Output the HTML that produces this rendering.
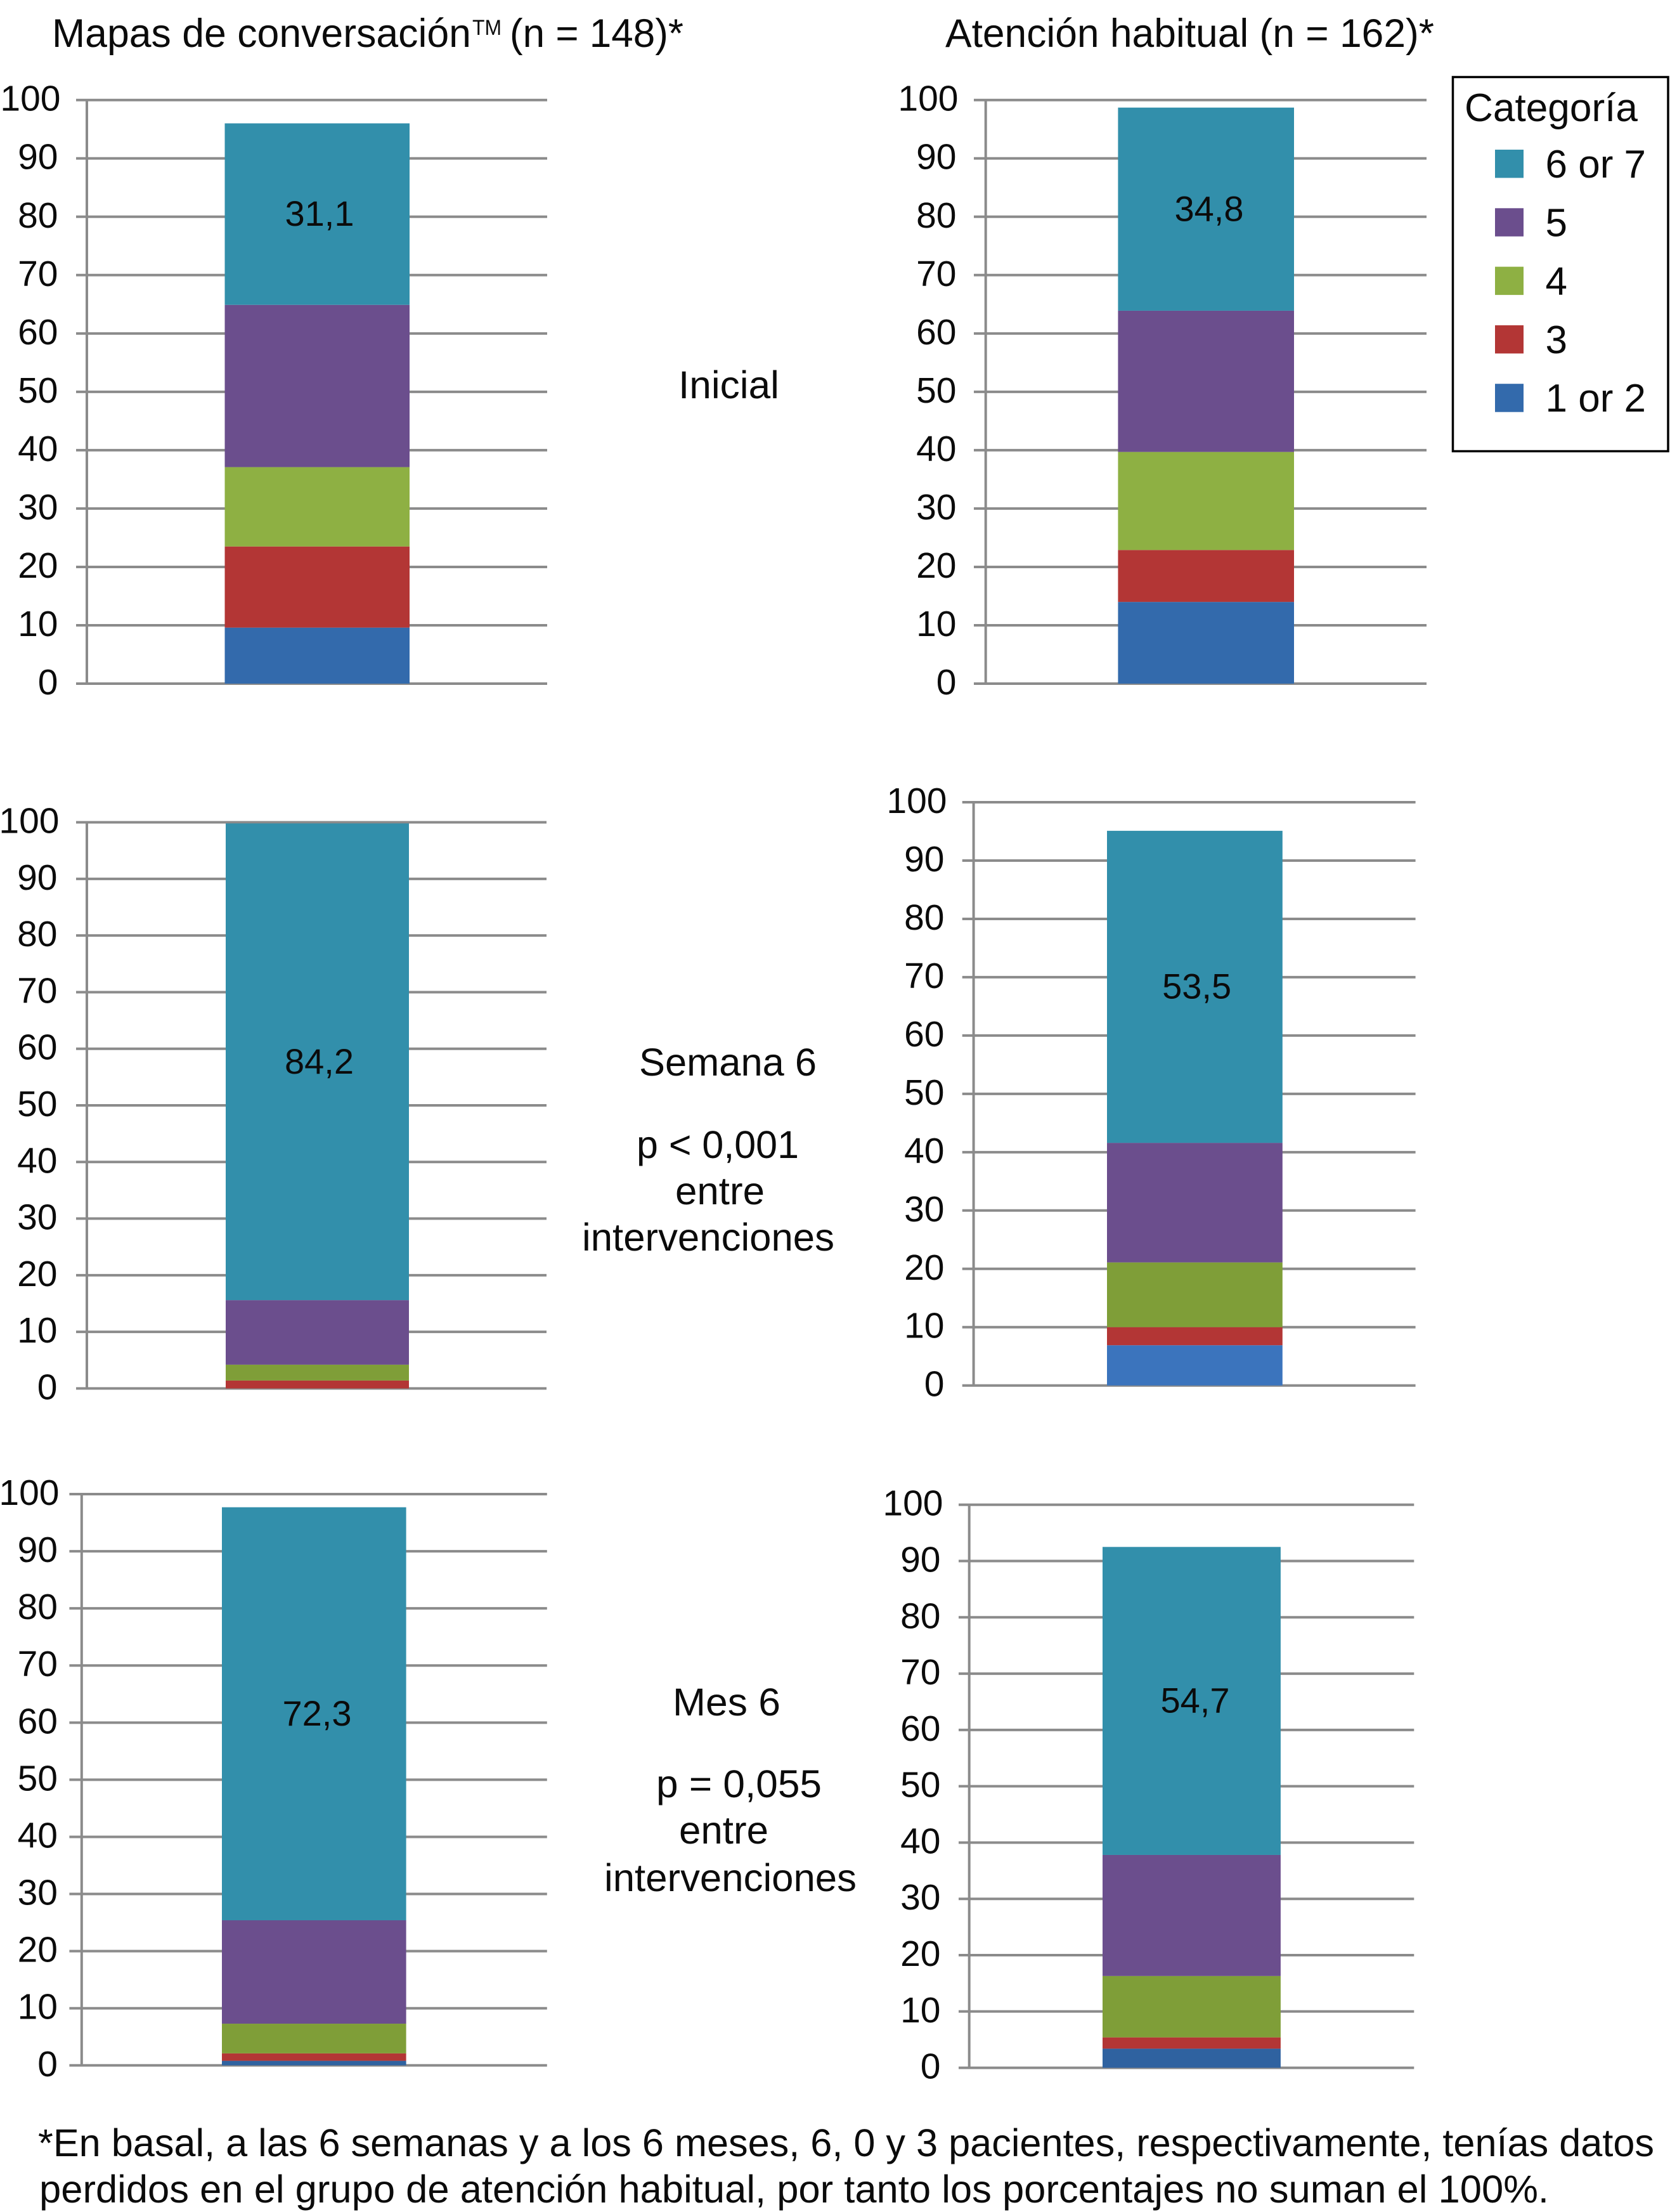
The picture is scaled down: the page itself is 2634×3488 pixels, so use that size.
<!DOCTYPE html>
<html lang="es">
<head>
<meta charset="utf-8">
<title>Mapas de conversación frente a atención habitual</title>
<style>
  html, body { margin: 0; padding: 0; background: #fff; }
  svg { display: block; }
  text { font-family: "Liberation Sans", Arial, sans-serif; fill: #0b0b0b; }
</style>
</head>
<body>
<svg id="chart" xmlns="http://www.w3.org/2000/svg" width="2634" height="3488" viewBox="0 0 2634 3488">
  <rect x="0" y="0" width="2634" height="3488" fill="#ffffff"/>

  <text x="82" y="74" font-size="63" textLength="661" lengthAdjust="spacingAndGlyphs">Mapas de conversación</text>
  <text x="745" y="55" font-size="34" textLength="46" lengthAdjust="spacingAndGlyphs">TM</text>
  <text x="804" y="74" font-size="63" textLength="274" lengthAdjust="spacingAndGlyphs">(n = 148)*</text>
  <text x="1491" y="74" font-size="63" textLength="771" lengthAdjust="spacingAndGlyphs">Atención habitual (n = 162)*</text>

  <text x="1070" y="628" font-size="61" textLength="159" lengthAdjust="spacingAndGlyphs">Inicial</text>

  <text x="1008" y="1696" font-size="61" textLength="280" lengthAdjust="spacingAndGlyphs">Semana 6</text>
  <text x="1004" y="1826" font-size="61" textLength="256" lengthAdjust="spacingAndGlyphs">p &lt; 0,001</text>
  <text x="1065" y="1899" font-size="61" textLength="141" lengthAdjust="spacingAndGlyphs">entre</text>
  <text x="918" y="1972" font-size="61" textLength="398" lengthAdjust="spacingAndGlyphs">intervenciones</text>

  <text x="1061" y="2705" font-size="61" textLength="170" lengthAdjust="spacingAndGlyphs">Mes 6</text>
  <text x="1035" y="2834" font-size="61" textLength="261" lengthAdjust="spacingAndGlyphs">p = 0,055</text>
  <text x="1071" y="2907" font-size="61" textLength="141" lengthAdjust="spacingAndGlyphs">entre</text>
  <text x="953" y="2982" font-size="61" textLength="398" lengthAdjust="spacingAndGlyphs">intervenciones</text>

  <text x="60" y="3400" font-size="61" textLength="2549" lengthAdjust="spacingAndGlyphs">*En basal, a las 6 semanas y a los 6 meses, 6, 0 y 3 pacientes, respectivamente, tenías datos</text>
  <text x="62" y="3473" font-size="61" textLength="2381" lengthAdjust="spacingAndGlyphs">perdidos en el grupo de atención habitual, por tanto los porcentajes no suman el 100%.</text>

  <rect x="2291.5" y="121.5" width="339.5" height="590" fill="#ffffff" stroke="#000000" stroke-width="3.5"/>
  <text x="2310" y="191" font-size="62" textLength="273" lengthAdjust="spacingAndGlyphs">Categoría</text>
</svg>

<script>
const yTicks = [0, 10, 20, 30, 40, 50, 60, 70, 80, 90, 100];
const categories = ['1 or 2', '3', '4', '5', '6 or 7'];
const mapasInicial = [9.6, 13.9, 13.6, 27.8, 31.1];
const atencionInicial = [14.0, 8.9, 16.8, 24.2, 34.8];
const mapasSemana6 = [0, 1.4, 2.8, 11.4, 84.2];
const atencionSemana6 = [6.9, 3.1, 11.1, 20.5, 53.5];
const mapasMes6 = [0.8, 1.3, 5.2, 18.1, 72.3];
const atencionMes6 = [3.4, 2.0, 10.9, 21.5, 54.7];

const NS = 'http://www.w3.org/2000/svg';
const svg = document.getElementById('chart');
const tealColor = '#328fab';
const purpleColor = '#6b4e8d';
const redColor = '#b33635';
const gridColor = '#8b8b8b';

function shape(tag, attrs) {
  const el = document.createElementNS(NS, tag);
  Object.keys(attrs).forEach(function (k) { el.setAttribute(k, attrs[k]); });
  return el;
}
function plainText(str, x, y, size, anchor) {
  const el = shape('text', { x: x, y: y, 'font-size': size, 'text-anchor': anchor });
  el.textContent = str;
  return el;
}

function drawPanel(p) {
  const yScale = function (v) { return p.y0 - v * (p.y0 - p.y100) / 100; };
  const group = shape('g', {});
  
  
  svg.appendChild(group);

  yTicks.forEach(function (t) {
    const grid = shape('line', { x1: p.tickX, x2: p.right, y1: yScale(t), y2: yScale(t), stroke: gridColor, 'stroke-width': 4 });
    
    
    group.appendChild(grid);

    const tickText = plainText(String(t), t === 100 ? p.labelX100 : p.labelX, yScale(t) + 17, 57, 'end');
    
    
    group.appendChild(tickText);
  });

  const axis = shape('line', { x1: p.axisX, x2: p.axisX, y1: yScale(100), y2: yScale(0), stroke: gridColor, 'stroke-width': 4 });
  
  
  group.appendChild(axis);

  const colours = [p.blue, redColor, p.green, purpleColor, tealColor];
  let cumulative = 0;
  p.values.forEach(function (v, i) {
    const bottom = cumulative;
    cumulative += v;
    const segment = shape('rect', {
      x: p.barLeft,
      y: yScale(cumulative),
      width: p.barRight - p.barLeft,
      height: yScale(bottom) - yScale(cumulative),
      fill: colours[i]
    });
    
    
    group.appendChild(segment);

    if (i === p.values.length - 1) {
      const labelY = yScale((bottom + cumulative) / 2) + 18.5;
      const valueText = plainText(v.toFixed(1).replace('.', ','), p.valueX, labelY, 56, 'middle');
      
      
      group.appendChild(valueText);
    }
  });
}

const greenLight = '#8eb043';
const greenDark = '#7f9e38';
drawPanel({ id: 'mapas-inicial', values: mapasInicial, y100: 157.7, y0: 1078, axisX: 137, tickX: 120, right: 863, barLeft: 354.5, barRight: 646, valueX: 504, labelX: 91.5, labelX100: 95.5, green: greenLight, blue: '#336aac' });
drawPanel({ id: 'atencion-inicial', values: atencionInicial, y100: 157.7, y0: 1078, axisX: 1554.7, tickX: 1536, right: 2250, barLeft: 1763.4, barRight: 2041, valueX: 1907, labelX: 1508.5, labelX100: 1511.5, green: greenLight, blue: '#336aac' });
drawPanel({ id: 'mapas-semana-6', values: mapasSemana6, y100: 1296.6, y0: 2189.4, axisX: 137, tickX: 120, right: 862, barLeft: 356, barRight: 645, valueX: 503.5, labelX: 90.5, labelX100: 93.5, green: greenDark, blue: '#336aac' });
drawPanel({ id: 'atencion-semana-6', values: atencionSemana6, y100: 1265, y0: 2184.7, axisX: 1535.6, tickX: 1517.7, right: 2232.6, barLeft: 1746, barRight: 2022.8, valueX: 1887.6, labelX: 1489.5, labelX100: 1493.5, green: greenDark, blue: '#3b74bd' });
drawPanel({ id: 'mapas-mes-6', values: mapasMes6, y100: 2356, y0: 3256.8, axisX: 128.8, tickX: 109.4, right: 862.8, barLeft: 350, barRight: 640.6, valueX: 500, labelX: 91, labelX100: 93.5, green: greenDark, blue: '#2f62a0' });
drawPanel({ id: 'atencion-mes-6', values: atencionMes6, y100: 2372.7, y0: 3260.6, axisX: 1528.7, tickX: 1512, right: 2230.3, barLeft: 1739, barRight: 2019.9, valueX: 1885, labelX: 1483.5, labelX100: 1487.5, green: greenDark, blue: '#2f62a0' });

const legendColours = [tealColor, purpleColor, greenLight, redColor, '#336aac'];
categories.slice().reverse().forEach(function (name, i) {
  const swatchY = 236 + i * 92.3;
  const swatch = shape('rect', { x: 2358, y: swatchY, width: 45, height: 44.5, fill: legendColours[i] });
  
  
  svg.appendChild(swatch);

  const label = plainText(name, 2437.5, swatchY + 44, 62, 'start');
  
  
  svg.appendChild(label);
});
</script>
</body>
</html>
